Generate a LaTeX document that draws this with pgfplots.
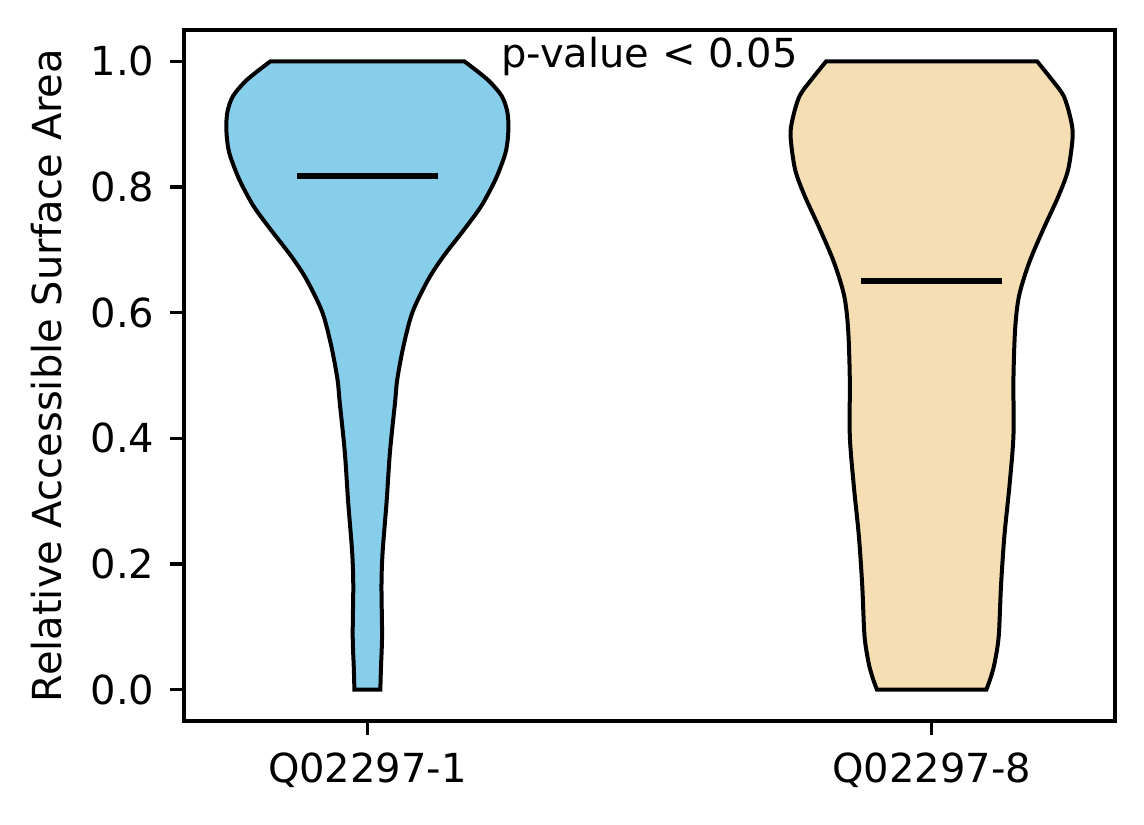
\documentclass[border=0pt]{standalone}
\usepackage{fontspec}
\setmainfont{DejaVu Sans}
\usepackage{pgfplots}
\usepackage{pgfplotstable}
\pgfplotsset{compat=1.18}
\usepgfplotslibrary{fillbetween}
\definecolor{skyblue}{HTML}{87CEEB}
\definecolor{wheat}{HTML}{F5DEB3}

% violin 1 (Q02297-1): half-widths, top to bottom (left side)
\pgfplotstableread{
y hw
1.000 0.172
0.971 0.213
0.945 0.238
0.920 0.248
0.895 0.250
0.870 0.248
0.849 0.243
0.812 0.227
0.770 0.202
0.733 0.172
0.690 0.135
0.653 0.108
0.601 0.080
0.547 0.064
0.494 0.053
0.457 0.049
0.378 0.040
0.298 0.034
0.219 0.027
0.166 0.025
0.086 0.026
0.033 0.024
0.000 0.023
}\violinA
% same, bottom to top (right side)
\pgfplotstableread{
y hw
0.000 0.023
0.033 0.024
0.086 0.026
0.166 0.025
0.219 0.027
0.298 0.034
0.378 0.040
0.457 0.049
0.494 0.053
0.547 0.064
0.601 0.080
0.653 0.108
0.690 0.135
0.733 0.172
0.770 0.202
0.812 0.227
0.849 0.243
0.870 0.248
0.895 0.250
0.920 0.248
0.945 0.238
0.971 0.213
1.000 0.172
}\violinAr

% violin 2 (Q02297-8)
\pgfplotstableread{
y hw
1.000 0.187
0.971 0.213
0.945 0.234
0.910 0.246
0.881 0.250
0.828 0.242
0.786 0.225
0.733 0.198
0.680 0.173
0.627 0.155
0.574 0.148
0.494 0.145
0.404 0.145
0.325 0.138
0.245 0.129
0.166 0.123
0.086 0.119
0.044 0.112
0.020 0.105
0.000 0.097
}\violinB
\pgfplotstableread{
y hw
0.000 0.097
0.020 0.105
0.044 0.112
0.086 0.119
0.166 0.123
0.245 0.129
0.325 0.138
0.404 0.145
0.494 0.145
0.574 0.148
0.627 0.155
0.680 0.173
0.733 0.198
0.786 0.225
0.828 0.242
0.881 0.250
0.910 0.246
0.945 0.234
0.971 0.213
1.000 0.187
}\violinBr

\begin{document}
\begin{tikzpicture}
\begin{axis}[
  at={(0pt,0pt)}, anchor=south west,
  scale only axis,
  width=232.75pt, height=172.75pt,
  xmin=0.675, xmax=2.325,
  ymin=-0.05, ymax=1.05,
  xtick={1,2},
  xticklabels={Q02297-1,Q02297-8},
  ytick={0,0.2,0.4,0.6,0.8,1.0},
  /pgf/number format/fixed,
  /pgf/number format/fixed zerofill,
  /pgf/number format/precision=1,
  /pgf/number format/assume math mode=true,
  tick align=outside,
  xtick pos=left, ytick pos=left,
  major tick length=3.5pt,
  every tick/.style={black, line width=0.8pt},
  axis line style={black, line width=0.8pt},
  tick label style={font=\fontsize{10}{12}\selectfont, inner sep=0pt},
  yticklabel style={anchor=east, xshift=-3.75pt},
  xticklabel style={anchor=north, yshift=-4.25pt},
  ylabel={Relative Accessible Surface Area},
  ylabel style={at={(axis description cs:0,0.5)}, anchor=base, yshift=30.5pt, inner sep=0pt, font=\fontsize{10}{12}\selectfont},
  clip=false,
]
\addplot[draw=none, name path=L1, smooth] table[x expr=1-\thisrow{hw}, y=y] {\violinA};
\addplot[draw=none, name path=R1, smooth] table[x expr=1+\thisrow{hw}, y=y] {\violinAr};
\addplot[fill=skyblue, draw=black, line width=1pt] fill between[of=L1 and R1];

\addplot[draw=none, name path=L2, smooth] table[x expr=2-\thisrow{hw}, y=y] {\violinB};
\addplot[draw=none, name path=R2, smooth] table[x expr=2+\thisrow{hw}, y=y] {\violinBr};
\addplot[fill=wheat, draw=black, line width=1pt] fill between[of=L2 and R2];

\addplot[black, line width=1.5pt] coordinates {(0.875,0.818) (1.125,0.818)};
\addplot[black, line width=1.5pt] coordinates {(1.875,0.651) (2.125,0.651)};

\node[anchor=base, inner sep=0pt, font=\fontsize{10}{12}\selectfont] at (axis cs:1.5,0.991) {p-value < 0.05};
\end{axis}
\pgfresetboundingbox
\path (-46pt,-25.75pt) rectangle (240pt,180.25pt);
\end{tikzpicture}
\end{document}
